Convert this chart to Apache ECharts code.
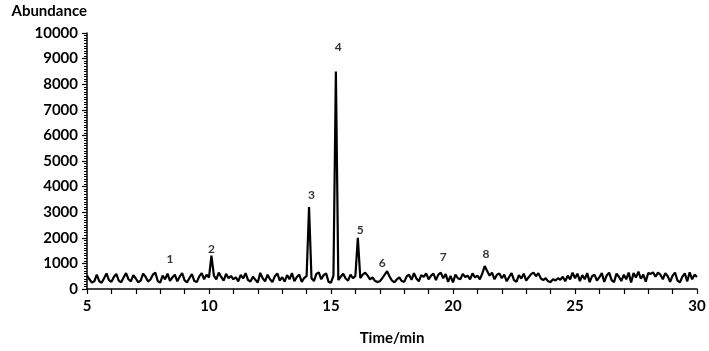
<!DOCTYPE html>
<html>
<head>
<meta charset="utf-8">
<script src="https://cdn.jsdelivr.net/npm/echarts@6/dist/echarts.min.js"></script>
<style>
  html, body { margin: 0; padding: 0; background: #fff; }
  #chart { width: 709px; height: 351px; }
</style>
</head>
<body>
<div id="chart"></div>
<script>
// sampling of the chromatogram: first time and step in minutes
const startTime = 5
const timeStep = 0.1

// abundance, one row per minute (5.0 .. 30.0)
const abundance = [
  520, 380, 250, 300, 560, 310, 240, 420, 610, 350,
  280, 470, 590, 330, 260, 450, 620, 380, 300, 540,
  410, 260, 330, 600, 480, 290, 370, 560, 640, 310,
  250, 520, 380, 600, 320, 450, 560, 300, 480, 620,
  340, 260, 430, 580, 310, 270, 490, 620, 380, 560,
  450, 1300, 520, 380, 640, 470, 330, 590, 420, 510,
  380, 460, 300, 550, 410, 620, 350, 290, 480, 360,
  250, 630, 420, 300, 560, 380, 270, 500, 610, 330,
  460, 290, 540, 380, 620, 310, 470, 560, 280, 430,
  500, 3200, 420, 310, 590, 650, 380, 540, 610, 280,
  250, 520, 8500, 350, 480, 600, 410, 330, 560, 420,
  510, 2000, 430, 560, 640, 520, 380, 450, 320, 270,
  300, 420, 560, 700, 480, 330, 260, 380, 450, 310,
  280, 490, 560, 360, 620, 410, 300, 540, 470, 610,
  380, 520, 600, 350, 560, 640, 420, 580, 280, 510,
  260, 560, 420, 380, 590, 470, 520, 380, 610, 450,
  520, 380, 600, 900, 700, 520, 640, 380, 560, 610,
  420, 560, 300, 470, 620, 350, 280, 540, 410, 600,
  330, 460, 580, 640, 500, 620, 410, 350, 420, 300,
  270, 380, 330, 420, 360, 480, 300, 520, 380, 640,
  420, 600, 310, 540, 380, 620, 270, 500, 560, 330,
  460, 620, 280, 530, 640, 350, 270, 600, 480, 310,
  560, 380, 640, 250, 620, 450, 680, 400, 560, 290,
  620, 590, 650, 480, 640, 560, 380, 620, 500, 280,
  520, 640, 330, 260, 480, 610, 300, 650, 380, 560,
  470
]

// peak numbers and where their labels sit
const peakNames = ['1', '2', '3', '4', '5', '6', '7', '8']
const peakTimes = [8.4, 10.1, 14.2, 15.3, 16.2, 17.1, 19.6, 21.35]
const peakLabelY = [1150, 1540, 3650, 9460, 2300, 1000, 1230, 1380]

const trace = abundance.map((v, i) => [+(startTime + i * timeStep).toFixed(1), v])
const peakPoints = peakNames.map((n, i) => ({ name: n, value: [peakTimes[i], peakLabelY[i]] }))

const font = 'Lato, "Open Sans", sans-serif'
const chart = echarts.init(document.getElementById('chart'))

chart.setOption({
  animation: false,
  grid: { left: 87, top: 33, right: 12, bottom: 58 },
  xAxis: {
    type: 'value',
    min: 5,
    max: 30,
    interval: 5,
    name: 'Time/min',
    nameLocation: 'middle',
    nameGap: 42,
    nameTextStyle: { color: '#000', fontFamily: font, fontWeight: 'bold', fontSize: 15 },
    axisLine: { lineStyle: { color: '#000', width: 1.5 } },
    axisTick: { show: true, length: 5, lineStyle: { color: '#000', width: 1.2 } },
    minorTick: { show: true, splitNumber: 5, length: 5, lineStyle: { color: '#000', width: 1.2 } },
    splitLine: { show: false },
    axisLabel: { color: '#000', fontFamily: font, fontWeight: 'bold', fontSize: 15, margin: 10 }
  },
  yAxis: {
    type: 'value',
    min: 0,
    max: 10000,
    interval: 1000,
    name: 'Abundance',
    nameLocation: 'end',
    nameGap: 14,
    nameTextStyle: { color: '#000', fontFamily: font, fontWeight: 'bold', fontSize: 15, align: 'right' },
    axisLine: { show: true, lineStyle: { color: '#000', width: 1.5 } },
    axisTick: { show: true, length: 5, lineStyle: { color: '#000', width: 1.2 } },
    minorTick: { show: true, splitNumber: 10, length: 3, lineStyle: { color: '#000', width: 1 } },
    splitLine: { show: false },
    axisLabel: { color: '#000', fontFamily: font, fontWeight: 'bold', fontSize: 15, margin: 9, formatter: v => String(v) }
  },
  series: [
    {
      type: 'line',
      data: trace,
      showSymbol: false,
      lineStyle: { color: '#000', width: 2.2 },
      z: 3
    },
    {
      type: 'scatter',
      data: peakPoints,
      symbolSize: 0,
      label: {
        show: true,
        position: 'inside',
        formatter: p => p.name,
        color: '#000',
        fontFamily: font,
        fontWeight: 'bold',
        fontSize: 12
      }
    }
  ]
})
</script>
</body>
</html>
